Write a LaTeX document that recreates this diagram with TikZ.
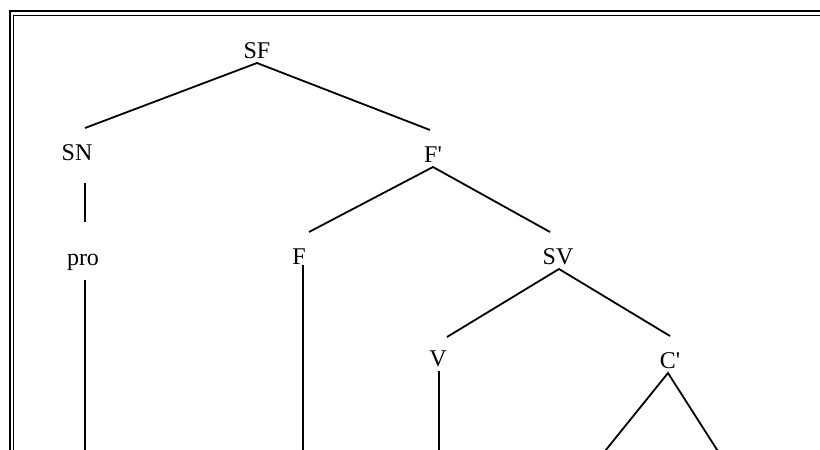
\documentclass[tikz,border=0pt]{standalone}
\usepackage{fontspec}
\setmainfont{Liberation Serif}
\begin{document}
\begin{tikzpicture}[x=0.5pt,y=-0.5pt]
        \tikzset{
            treenode/.style={anchor=base,inner sep=0pt,outer sep=0pt,text height=16pt,text depth=2.5pt,font=\fontsize{12}{14}\selectfont},
            branch/.style={line width=0.9pt},
        }
        \useasboundingbox (0,0) rectangle (820,450);
        \clip (0,0) rectangle (820,450);
        \fill[white] (0,0) rectangle (820,450);

        \draw[line width=1.1pt] (9.7,470) -- (9.7,11.2) -- (840,11.2);
        \draw[line width=0.8pt] (13.3,470) -- (13.3,15.3) -- (840,15.3);

        \node[treenode] (sf) at(257,58) {SF};
        \node[treenode] (sn) at(77,160) {SN};
        \node[treenode] (fbar) at(433,162) {F\textquotesingle};
        \node[treenode] (pro) at(83,265) {pro};
        \node[treenode] (f) at(299,264) {F};
        \node[treenode] (sv) at(558,264) {SV};
        \node[treenode] (v) at(438,366) {V};
        \node[treenode] (cbar) at(670,368) {C\textquotesingle};
        \coordinate (bottom) at (0,458);
        \coordinate (tril) at (601,456);
        \coordinate (trir) at (721,456);

        \draw[branch] ([xshift=4pt]sn.north) -- (sf.south) -- ([xshift=-1.5pt]fbar.north);
        \draw[branch] ([xshift=4pt,yshift=-9pt]sn.south) -- ([xshift=1pt,yshift=5.5pt]pro.north);
        \draw[branch] ([xshift=1pt,yshift=-5pt]pro.south) coordinate (p1) -- (p1 |- bottom);
        \draw[branch] ([xshift=5pt]f.north) -- (fbar.south) -- ([xshift=-4pt]sv.north);
        \draw[branch] ([xshift=2pt,yshift=2pt]f.south) coordinate (p2) -- (p2 |- bottom);
        \draw[branch] ([xshift=4.5pt,yshift=-1.5pt]v.north) -- ([xshift=0.5pt]sv.south) -- (cbar.north);
        \draw[branch] ([xshift=0.5pt]v.south) coordinate (p3) -- (p3 |- bottom);
        \draw[branch] (tril) -- ([xshift=-1pt]cbar.south) -- (trir);
    \end{tikzpicture}
\end{document}
